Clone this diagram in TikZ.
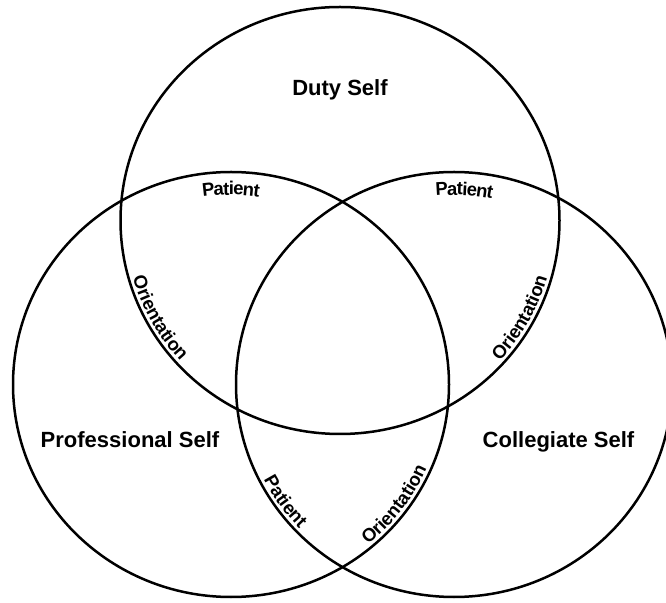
\documentclass[tikz,border=0pt]{standalone}
\usepackage{fontspec}
\setmainfont{Liberation Sans}
\usetikzlibrary{decorations.text}
\newcommand{\arcfont}{\bfseries\fontsize{18.5}{21}\selectfont}
\begin{document}
\begin{tikzpicture}[x=1pt,y=1pt,
  ring/.style={line width=2.5pt},
  biglabel/.style={font=\bfseries\fontsize{22}{26}\selectfont, anchor=base, inner sep=0pt},
  arclabel/.style={decorate, decoration={text along path, text align=center, raise=#1}},
]
\clip (0,0) rectangle (666,602);
\coordinate (ct) at (340,381.5);
\coordinate (cl) at (231,217.5);
\coordinate (cr) at (454,217.5);
\draw[ring] (ct) ellipse[x radius=219.5pt, y radius=213.5pt];
\draw[ring] (cl) ellipse[x radius=218pt, y radius=212.5pt];
\draw[ring] (cr) ellipse[x radius=218pt, y radius=212.5pt];

\node[biglabel] (duty) at (340,506) {Duty Self};
\node[biglabel] (prof) at (130,154) {Professional Self};
\node[biglabel] (coll) at (558.5,154) {Collegiate Self};

% top-left Patient along left circle top
\path[arclabel=-23pt, decoration={text={|\arcfont|Patient}}]
  (cl) ++(106:218pt and 212.5pt) arc[start angle=106, end angle=74, x radius=218pt, y radius=212.5pt];
% top-right Patient along right circle top
\path[arclabel=-23pt, decoration={text={|\arcfont|Patient}}]
  (cr) ++(103:218pt and 212.5pt) arc[start angle=103, end angle=71, x radius=218pt, y radius=212.5pt];
% left Orientation along top circle
\path[arclabel=4pt, decoration={text={|\arcfont|Orientation}}]
  (ct) ++(192:219.5pt and 213.5pt) arc[start angle=192, end angle=226, x radius=219.5pt, y radius=213.5pt];
% right Orientation along top circle
\path[arclabel=4pt, decoration={text={|\arcfont|Orientation}}]
  (ct) ++(-46:219.5pt and 213.5pt) arc[start angle=-46, end angle=-12, x radius=219.5pt, y radius=213.5pt];
% bottom Patient along right circle
\path[arclabel=4pt, decoration={text={|\arcfont|Patient}}]
  (cr) ++(203:218pt and 212.5pt) arc[start angle=203, end angle=228, x radius=218pt, y radius=212.5pt];
% bottom Orientation along left circle
\path[arclabel=4pt, decoration={text={|\arcfont|Orientation}}]
  (cl) ++(-54:218pt and 212.5pt) arc[start angle=-54, end angle=-20, x radius=218pt, y radius=212.5pt];
\end{tikzpicture}
\end{document}
